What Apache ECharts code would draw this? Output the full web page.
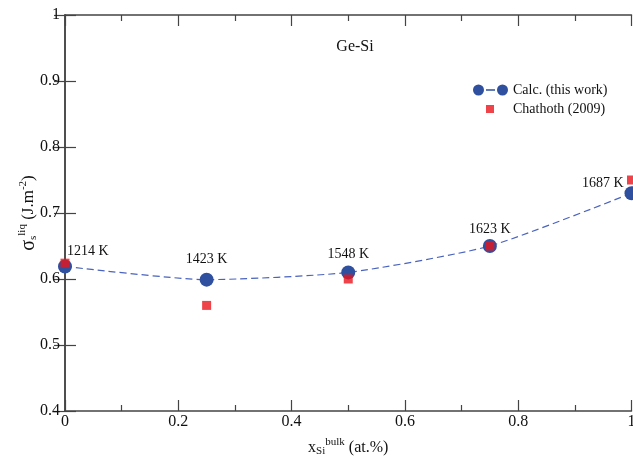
<!DOCTYPE html>
<html>
<head>
<meta charset="utf-8">
<script src="https://cdn.jsdelivr.net/npm/echarts@6/dist/echarts.min.js"></script>
<style>html,body{margin:0;padding:0;background:#fff}#c{width:633px;height:456px}</style>
</head>
<body>
<div id="c"></div>
<script>
const xSi = [0, 0.25, 0.5, 0.75, 1];
const calc = [0.619, 0.599, 0.610, 0.650, 0.730];
const chathoth = [0.624, 0.560, 0.600, 0.650, 0.750];
const tempLabels = ['1214 K', '1423 K', '1548 K', '1623 K', '1687 K'];
const yTicks = [0.4, 0.5, 0.6, 0.7, 0.8, 0.9, 1];
const xTicks = [0, 0.2, 0.4, 0.6, 0.8, 1];

const FONT = '"Liberation Serif", "Times New Roman", serif';
const labelPos = [
  {position: 'top', align: 'left', offset: [2, 0], distance: 1},
  {position: 'top', distance: 6},
  {position: 'top', distance: 4},
  {position: 'top', distance: 3},
  {position: 'left', offset: [0, -10], distance: 1}
];
const calcData = xSi.map((x, i) => ({
  value: [x, calc[i]],
  label: Object.assign({show: true, formatter: tempLabels[i]}, labelPos[i])
}));
const chatData = xSi.map((x, i) => [x, chathoth[i]]);

const chart = echarts.init(document.getElementById('c'));
const axisLine = {show: true, lineStyle: {color: '#444', width: 1.5}};
chart.setOption({
  animation: false,
  textStyle: {fontFamily: FONT},
  title: {
    text: 'Ge-Si', left: 350, top: 34, textAlign: 'center',
    textStyle: {fontFamily: FONT, fontSize: 16, fontWeight: 'normal', color: '#111'}
  },
  legend: [{
    orient: 'vertical', left: 468, top: 78,
    itemWidth: 35, itemHeight: 11, itemGap: 6,
    data: [{name: 'Calc. (this work)', icon: 'path://M5.5,0A5.5,5.5 0 1 1 5.5,11A5.5,5.5 0 1 1 5.5,0Z M13,4.7h9v1.6h-9Z M29.5,0A5.5,5.5 0 1 1 29.5,11A5.5,5.5 0 1 1 29.5,0Z'}],
    textStyle: {fontFamily: FONT, fontSize: 14, color: '#111'}
  }, {
    orient: 'vertical', left: 481, top: 97,
    itemWidth: 8, itemHeight: 8,
    data: [{name: 'Chathoth (2009)', icon: 'rect'}],
    textStyle: {fontFamily: FONT, fontSize: 14, color: '#111', padding: [0, 0, 0, 14]}
  }],
  grid: {left: 65, right: 1.5, top: 15, bottom: 45, outerBoundsMode: 'none', containLabel: false},
  xAxis: [{
    type: 'value', min: 0, max: 1, interval: 0.2,
    name: '{x|x}{sub|Si}{sup|bulk}{n| (at.%)}',
    nameLocation: 'middle', nameGap: 26,
    nameTextStyle: {
      fontFamily: FONT, color: '#111',
      rich: {
        x: {fontFamily: FONT, fontSize: 16, color: '#111'},
        sub: {fontFamily: FONT, fontSize: 11, color: '#111', padding: [8, 0, 0, 0]},
        sup: {fontFamily: FONT, fontSize: 11, color: '#111', padding: [0, 0, 10, 0]},
        n: {fontFamily: FONT, fontSize: 16, color: '#111'}
      }
    },
    axisLine: axisLine,
    axisTick: {inside: true, length: 11, lineStyle: {color: '#444', width: 1.2}},
    minorTick: {show: true, splitNumber: 2, length: 6, lineStyle: {color: '#444', width: 1.2}},
    splitLine: {show: false},
    axisLabel: {fontFamily: FONT, fontSize: 16, color: '#111', margin: 3,
      formatter: v => String(+v.toFixed(1))}
  }, {
    type: 'value', min: 0, max: 1, interval: 0.2, position: 'top',
    axisLine: axisLine,
    axisTick: {inside: true, length: 11, lineStyle: {color: '#444', width: 1.2}},
    minorTick: {show: true, splitNumber: 2, length: 6, lineStyle: {color: '#444', width: 1.2}},
    splitLine: {show: false}, axisLabel: {show: false}
  }],
  yAxis: [{
    type: 'value', min: 0.4, max: 1, interval: 0.1,
    name: '{s|σ}{sub|s}{sup|liq}{n| (J.m}{sup2|-2}{n|)}',
    nameLocation: 'middle', nameGap: 25, nameRotate: 90, nameMoveOverlap: false,
    nameTextStyle: {
      fontFamily: FONT, color: '#111',
      rich: {
        s: {fontFamily: FONT, fontSize: 20, color: '#111'},
        sub: {fontFamily: FONT, fontSize: 11, color: '#111', padding: [10, 0, 0, 0]},
        sup: {fontFamily: FONT, fontSize: 11, color: '#111', padding: [0, 0, 12, 0]},
        sup2: {fontFamily: FONT, fontSize: 11, color: '#111', padding: [0, 0, 10, 0]},
        n: {fontFamily: FONT, fontSize: 17, color: '#111'}
      }
    },
    axisLine: axisLine,
    axisTick: {inside: true, length: 11, lineStyle: {color: '#444', width: 1.2}},
    splitLine: {show: false},
    axisLabel: {fontFamily: FONT, fontSize: 16, color: '#111', margin: 5,
      formatter: v => String(+v.toFixed(1))}
  }, {
    type: 'value', min: 0.4, max: 1, interval: 0.1, position: 'right',
    axisLine: axisLine,
    axisTick: {inside: true, length: 11, lineStyle: {color: '#444', width: 1.2}},
    splitLine: {show: false}, axisLabel: {show: false}
  }],
  series: [{
    name: 'Calc. (this work)', type: 'line', data: calcData,
    smooth: 0.2, symbol: 'circle', symbolSize: 14,
    itemStyle: {color: '#2f4f9f'},
    lineStyle: {color: '#4a63bd', width: 1.2, type: [7, 4]},
    label: {fontFamily: FONT, fontSize: 14, color: '#111'},
    clip: false, z: 2
  }, {
    name: 'Chathoth (2009)', type: 'scatter', data: chatData,
    symbol: 'rect', symbolSize: 9,
    itemStyle: {color: '#e8141c'},
    clip: false, z: 3
  }]
});
</script>
</body>
</html>
